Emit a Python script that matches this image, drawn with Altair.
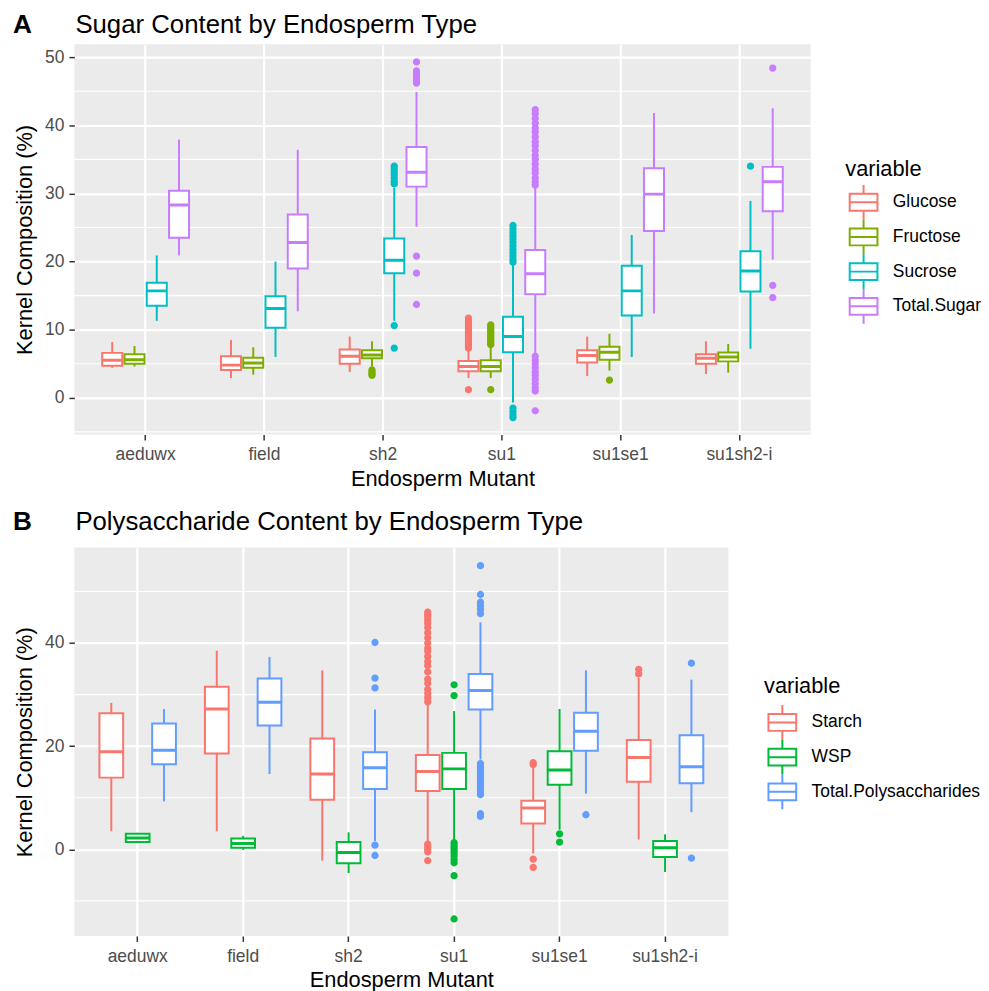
import altair as alt
import pandas as pd

categories = ["aeduwx", "field", "sh2", "su1", "su1se1", "su1sh2-i"]

# ---------------- Panel A : sugars ----------------
sugar_vars = ["Glucose", "Fructose", "Sucrose", "Total.Sugar"]
sugar_colors = ["#F8766D", "#7CAE00", "#00BFC4", "#C77CFF"]
# (lower whisker, Q1, median, Q3, upper whisker), one tuple per category
glucose = [(4.4, 4.7, 5.5, 6.6, 8.2), (2.9, 4.1, 4.8, 6.1, 8.5), (3.8, 5.0, 6.1, 7.1, 9.0),
           (2.9, 3.9, 4.6, 5.4, 7.0), (3.2, 5.2, 6.2, 7.0, 9.0), (3.5, 5.0, 5.8, 6.4, 8.3)]
fructose = [(4.6, 5.0, 5.6, 6.4, 7.6), (3.4, 4.4, 5.1, 5.9, 7.4), (4.6, 5.8, 6.3, 7.0, 8.3),
            (2.9, 3.9, 4.6, 5.5, 7.5), (4.0, 5.6, 6.7, 7.5, 9.4), (3.7, 5.35, 6.0, 6.65, 7.9)]
sucrose = [(11.3, 13.5, 15.7, 16.9, 20.9), (6.0, 10.3, 13.1, 14.9, 20.0), (11.3, 18.3, 20.2, 23.4, 30.8),
           (-0.7, 6.7, 9.0, 11.9, 19.7), (6.0, 12.1, 15.7, 19.4, 23.9), (7.2, 15.6, 18.6, 21.5, 28.9)]
total_sugar = [(20.9, 23.5, 28.3, 30.4, 37.9), (12.7, 19.0, 22.8, 26.9, 36.4), (25.1, 31.0, 33.1, 36.8, 44.9),
               (6.6, 15.2, 18.2, 21.7, 31.1), (12.4, 24.5, 29.9, 33.7, 41.8), (20.3, 27.4, 31.7, 33.9, 42.5)]
sugar_outliers = {
    ("sh2", "Fructose"): [4.1, 3.8, 3.5, 3.3],
    ("sh2", "Sucrose"): [34.0, 33.6, 33.2, 32.8, 32.3, 31.8, 31.4, 10.6, 7.3],
    ("sh2", "Total.Sugar"): [49.3, 48.0, 47.6, 47.1, 46.6, 46.2, 20.8, 18.3, 13.7],
    ("su1", "Glucose"): [11.7, 11.3, 11.0, 10.6, 10.3, 10.0, 9.7, 9.4, 9.1, 8.8, 8.5, 8.2, 7.9, 7.6, 7.3, 1.2],
    ("su1", "Fructose"): [10.7, 10.4, 10.1, 9.8, 9.5, 9.2, 8.9, 8.6, 8.3, 8.0, 7.8, 1.2],
    ("su1", "Sucrose"): [25.3, 24.8, 24.3, 23.8, 23.3, 22.8, 22.3, 21.8, 21.3, 20.8, 20.3, 19.9,
                         -1.5, -2.0, -2.5, -2.9],
    ("su1", "Total.Sugar"): [42.3, 41.7, 41.0, 40.3, 39.6, 39.0, 38.3, 37.6, 37.0, 36.3, 35.6, 35.0,
                             34.3, 33.6, 33.0, 32.3, 31.7, 31.2, 6.1, 5.5, 5.0, 4.4, 3.8, 3.3, 2.7,
                             2.1, 1.5, 1.0, -1.9],
    ("su1se1", "Fructose"): [2.6],
    ("su1sh2-i", "Sucrose"): [34.0],
    ("su1sh2-i", "Total.Sugar"): [48.4, 16.5, 14.7],
}
sugar_major = [0, 10, 20, 30, 40, 50]
sugar_minor = [-5, 5, 15, 25, 35, 45]
sugar_domain = [-5.4, 51.9]

# ---------------- Panel B : polysaccharides ----------------
poly_vars = ["Starch", "WSP", "Total.Polysaccharides"]
poly_colors = ["#F8766D", "#00BA38", "#619CFF"]
starch = [(3.5, 13.9, 18.9, 26.4, 28.4), (3.5, 18.6, 27.2, 31.5, 38.5), (-2.2, 9.6, 14.6, 21.5, 34.7),
          (1.3, 11.3, 15.1, 18.3, 28.2), (-0.8, 5.0, 8.0, 9.4, 16.0), (1.9, 13.1, 17.8, 21.2, 33.2)]
wsp = [(1.3, 1.4, 2.2, 3.0, 3.2), (-0.1, 0.3, 1.15, 2.1, 2.6), (-4.6, -2.7, -0.6, 1.4, 3.3),
       (1.6, 11.7, 15.6, 18.7, 26.8), (3.8, 12.5, 15.4, 19.0, 27.2), (-4.4, -1.5, 0.3, 1.6, 2.9)]
total_poly = [(9.3, 16.5, 19.2, 24.4, 27.2), (14.6, 24.0, 28.5, 33.1, 37.3), (1.6, 11.7, 15.8, 18.8, 27.1),
              (17.4, 27.1, 30.8, 34.0, 44.0), (10.8, 19.1, 22.9, 26.5, 34.7), (7.2, 12.8, 16.0, 22.1, 32.9)]
poly_outliers = {
    ("sh2", "Total.Polysaccharides"): [40.1, 33.2, 31.3, 0.8, -1.2],
    ("su1", "Starch"): [46.0, 45.5, 45.0, 44.4, 43.8, 43.0, 42.0, 41.0, 40.0, 39.0, 38.4, 37.4, 36.4,
                        35.6, 34.4, 33.0, 32.2, 31.0, 30.2, 29.4, 28.6, 1.0, 0.5, 0.0, -0.5, -2.2],
    ("su1", "WSP"): [31.9, 29.8, 1.3, 0.8, 0.3, -0.2, -0.7, -1.3, -2.0, -2.6, -5.1, -13.5],
    ("su1", "Total.Polysaccharides"): [55.0, 49.4, 47.9, 47.2, 46.5, 45.7, 16.6, 16.0, 15.4, 14.8,
                                       14.2, 13.6, 13.0, 12.4, 11.8, 11.2, 10.6, 6.9, 6.4],
    ("su1se1", "Starch"): [16.8, 16.4, -1.9, -3.5],
    ("su1se1", "WSP"): [3.0, 1.4],
    ("su1se1", "Total.Polysaccharides"): [6.7],
    ("su1sh2-i", "Starch"): [34.9, 34.0],
    ("su1sh2-i", "Total.Polysaccharides"): [36.1, -1.7],
}
poly_major = [0, 20, 40]
poly_minor = [-10, 10, 30, 50]
poly_domain = [-16.8, 58.5]

FONT = "Liberation Sans"
BOX_SYMBOL = "M-0.72,-0.68H1.52V0.68H-0.72Z M-0.72,0H1.52 M0.4,-0.68V-1.4 M0.4,0.68V1.4"


def box_frame(variables, stats):
    rows = []
    for var, s in zip(variables, stats):
        for cat, (lo, q1, med, q3, hi) in zip(categories, s):
            rows.append(dict(category=cat, variable=var, lo=lo, q1=q1, med=med, q3=q3, hi=hi))
    return pd.DataFrame(rows)


def outlier_frame(outs):
    rows = []
    for (cat, var), vals in outs.items():
        for v in vals:
            rows.append(dict(category=cat, variable=var, value=v))
    return pd.DataFrame(rows)


def panel(box_df, out_df, variables, colors, w, h, domain, major, minor, title, letter,
          lx, ly, ltp, ty):
    n = len(variables)
    xaxis = alt.Axis(title="Endosperm Mutant", bandPosition=0.5, grid=True, gridColor="white",
                     gridWidth=2.2, domain=False, tickColor="#333333", tickSize=5.5, tickWidth=1.5,
                     labelColor="#4D4D4D", labelFontSize=17.6, labelPadding=6, labelAngle=0,
                     titleFontSize=22, titleFontWeight="normal", titleColor="black", titlePadding=5)
    yaxis = alt.Axis(title="Kernel Composition (%)", values=major, grid=True, gridColor="white",
                     gridWidth=2.2, domain=False, tickColor="#333333", tickSize=5.5, tickWidth=1.5,
                     labelColor="#4D4D4D", labelFontSize=17.6, labelPadding=5,
                     titleFontSize=22, titleFontWeight="normal", titleColor="black", titlePadding=8)
    yscale = alt.Scale(domain=domain, nice=False, zero=False)
    legend = alt.Legend(title="variable", orient="none", legendX=lx, legendY=ly,
                        symbolType=BOX_SYMBOL, symbolSize=625, symbolStrokeWidth=2,
                        symbolFillColor="white", rowPadding=-11, padding=0, titlePadding=ltp,
                        labelFontSize=17.6, labelColor="black", labelOffset=21, labelLimit=400,
                        titleFontSize=22, titleFontWeight="normal", titleColor="black")

    def X():
        return alt.X("category:N", sort=categories,
                     scale=alt.Scale(domain=categories, paddingInner=0, paddingOuter=0.1), axis=xaxis)

    def XO():
        return alt.XOffset("variable:N", sort=variables,
                           scale=alt.Scale(domain=variables, paddingInner=0.1, paddingOuter=n / 6 + 0.05))

    def Y(field):
        return alt.Y(field, type="quantitative", scale=yscale, axis=yaxis)

    def C():
        return alt.Color("variable:N", sort=variables,
                         scale=alt.Scale(domain=variables, range=colors), legend=legend)

    minor_grid = alt.Chart(pd.DataFrame({"v": minor})).mark_rule(color="white", strokeWidth=1.1).encode(
        y=Y("v"))
    whisk = alt.Chart(box_df).mark_rule(strokeWidth=2).encode(
        x=X(), xOffset=XO(), y=Y("lo"), y2="hi", color=C())
    box_fill = alt.Chart(box_df).mark_bar(color="white").encode(
        x=X(), xOffset=XO(), y=Y("q1"), y2="q3")
    box_line = alt.Chart(box_df).mark_bar(filled=False, strokeWidth=2).encode(
        x=X(), xOffset=XO(), y=Y("q1"), y2="q3", color=C())
    med = alt.Chart(box_df).mark_bar(filled=False, strokeWidth=3).encode(
        x=X(), xOffset=XO(), y=Y("med"), y2="med", color=C())
    pts = alt.Chart(out_df).mark_point(filled=False, shape="circle", size=12, strokeWidth=3.9,
                                       opacity=1).encode(
        x=X(), xOffset=XO(), y=Y("value"), color=C())
    lab = alt.Chart(pd.DataFrame({"t": [letter]})).mark_text(
        fontSize=26.4, fontWeight="bold", align="left", baseline="alphabetic", color="black").encode(
        text="t:N", x=alt.value(-62), y=alt.value(ty))
    ttl = alt.Chart(pd.DataFrame({"t": [title]})).mark_text(
        fontSize=26, fontWeight="normal", align="left", baseline="alphabetic", color="black").encode(
        text="t:N", x=alt.value(1), y=alt.value(ty))

    return alt.layer(minor_grid, whisk, box_fill, box_line, med, pts, lab, ttl).properties(
        width=w, height=h)


chart_a = panel(box_frame(sugar_vars, [glucose, fructose, sucrose, total_sugar]),
                outlier_frame(sugar_outliers), sugar_vars, sugar_colors, 743, 394,
                sugar_domain, sugar_major, sugar_minor,
                "Sugar Content by Endosperm Type", "A", 778, 116, 8, -11)
chart_b = panel(box_frame(poly_vars, [starch, wsp, total_poly]),
                outlier_frame(poly_outliers), poly_vars, poly_colors, 660, 392,
                poly_domain, poly_major, poly_minor,
                "Polysaccharide Content by Endosperm Type", "B", 696, 130, 11, -18)

chart = alt.vconcat(chart_a, chart_b, spacing=19).resolve_scale(
    color="independent", x="independent", y="independent",
    xOffset="independent").resolve_legend(color="independent").properties(
    padding={"left": 5, "top": 0, "right": 0, "bottom": 0}).configure(
    font=FONT).configure_view(fill="#EBEBEB", stroke=None)

chart.save("out.html", embed_options={"renderer": "svg", "actions": False})
